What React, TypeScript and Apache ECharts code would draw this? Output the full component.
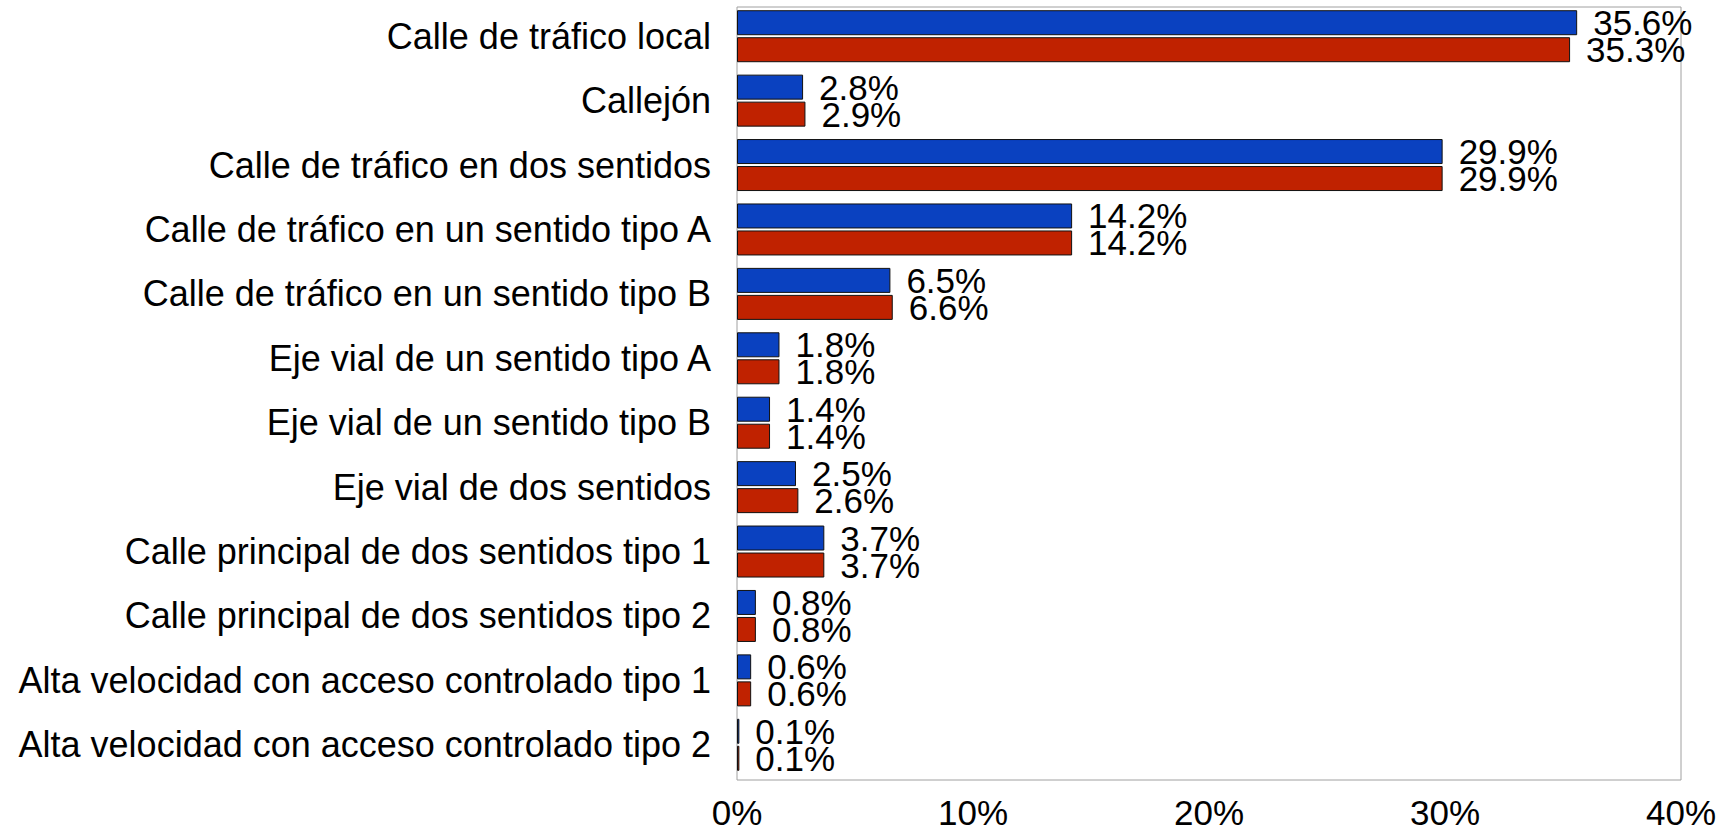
import React, { useEffect, useRef } from "react";
import * as echarts from "echarts";

const categories = [
  "Calle de tráfico local",
  "Callejón",
  "Calle de tráfico en dos sentidos",
  "Calle de tráfico en un sentido tipo A",
  "Calle de tráfico en un sentido tipo B",
  "Eje vial de un sentido tipo A",
  "Eje vial de un sentido tipo B",
  "Eje vial de dos sentidos",
  "Calle principal de dos sentidos tipo 1",
  "Calle principal de dos sentidos tipo 2",
  "Alta velocidad con acceso controlado tipo 1",
  "Alta velocidad con acceso controlado tipo 2",
];
const seriesBlue = [35.6, 2.8, 29.9, 14.2, 6.5, 1.8, 1.4, 2.5, 3.7, 0.8, 0.6, 0.1];
const seriesRed = [35.3, 2.9, 29.9, 14.2, 6.6, 1.8, 1.4, 2.6, 3.7, 0.8, 0.6, 0.1];
const xTicks = [0, 10, 20, 30, 40];

const FONT = "'Liberation Sans', Arial, sans-serif";

export default function App() {
  const ref = useRef<HTMLDivElement>(null);
  useEffect(() => {
    if (!ref.current) return;
    const chart = echarts.init(ref.current, null, { renderer: "svg" });
    const label = {
      show: true,
      position: "right" as const,
      distance: 16,
      color: "#000",
      fontSize: 35,
      fontFamily: FONT,
      formatter: (p: any) => p.value.toFixed(1) + "%",
    };
    chart.setOption({
      animation: false,
      backgroundColor: "#fff",
      grid: {
        left: 737,
        right: 41,
        top: 4,
        bottom: 53,
        show: false,
        containLabel: false,
      },
      graphic: [
        {
          type: "rect",
          z: 0,
          shape: { x: 737, y: 7, width: 944, height: 773 },
          style: { fill: "none", stroke: "#a0a0a0", lineWidth: 1 },
          silent: true,
        },
      ],
      xAxis: {
        type: "value",
        min: xTicks[0],
        max: xTicks[xTicks.length - 1],
        interval: 10,
        axisLine: { show: false },
        axisTick: { show: false },
        splitLine: { show: false },
        axisLabel: {
          formatter: (v: number) => v + "%",
          color: "#000",
          fontSize: 35,
          lineHeight: 34,
          fontFamily: FONT,
          margin: 18,
        },
      },
      yAxis: {
        type: "category",
        data: categories,
        inverse: true,
        axisLine: { show: false },
        axisTick: { show: false },
        axisLabel: {
          color: "#000",
          fontSize: 36,
          fontFamily: FONT,
          margin: 26,
          padding: [6, 0, 0, 0],
        },
      },
      series: [
        {
          type: "bar",
          data: seriesBlue,
          barWidth: 25,
          barGap: "8%",
          itemStyle: { color: "#0a41c0", borderColor: "#111", borderWidth: 1 },
          label,
        },
        {
          type: "bar",
          data: seriesRed,
          barWidth: 25,
          barGap: "8%",
          itemStyle: { color: "#c02200", borderColor: "#111", borderWidth: 1 },
          label,
        },
      ],
    });
    return () => chart.dispose();
  }, []);
  return (
    <div
      ref={ref}
      style={{ position: "absolute", left: 0, top: 0, width: 1722, height: 830 }}
    />
  );
}
